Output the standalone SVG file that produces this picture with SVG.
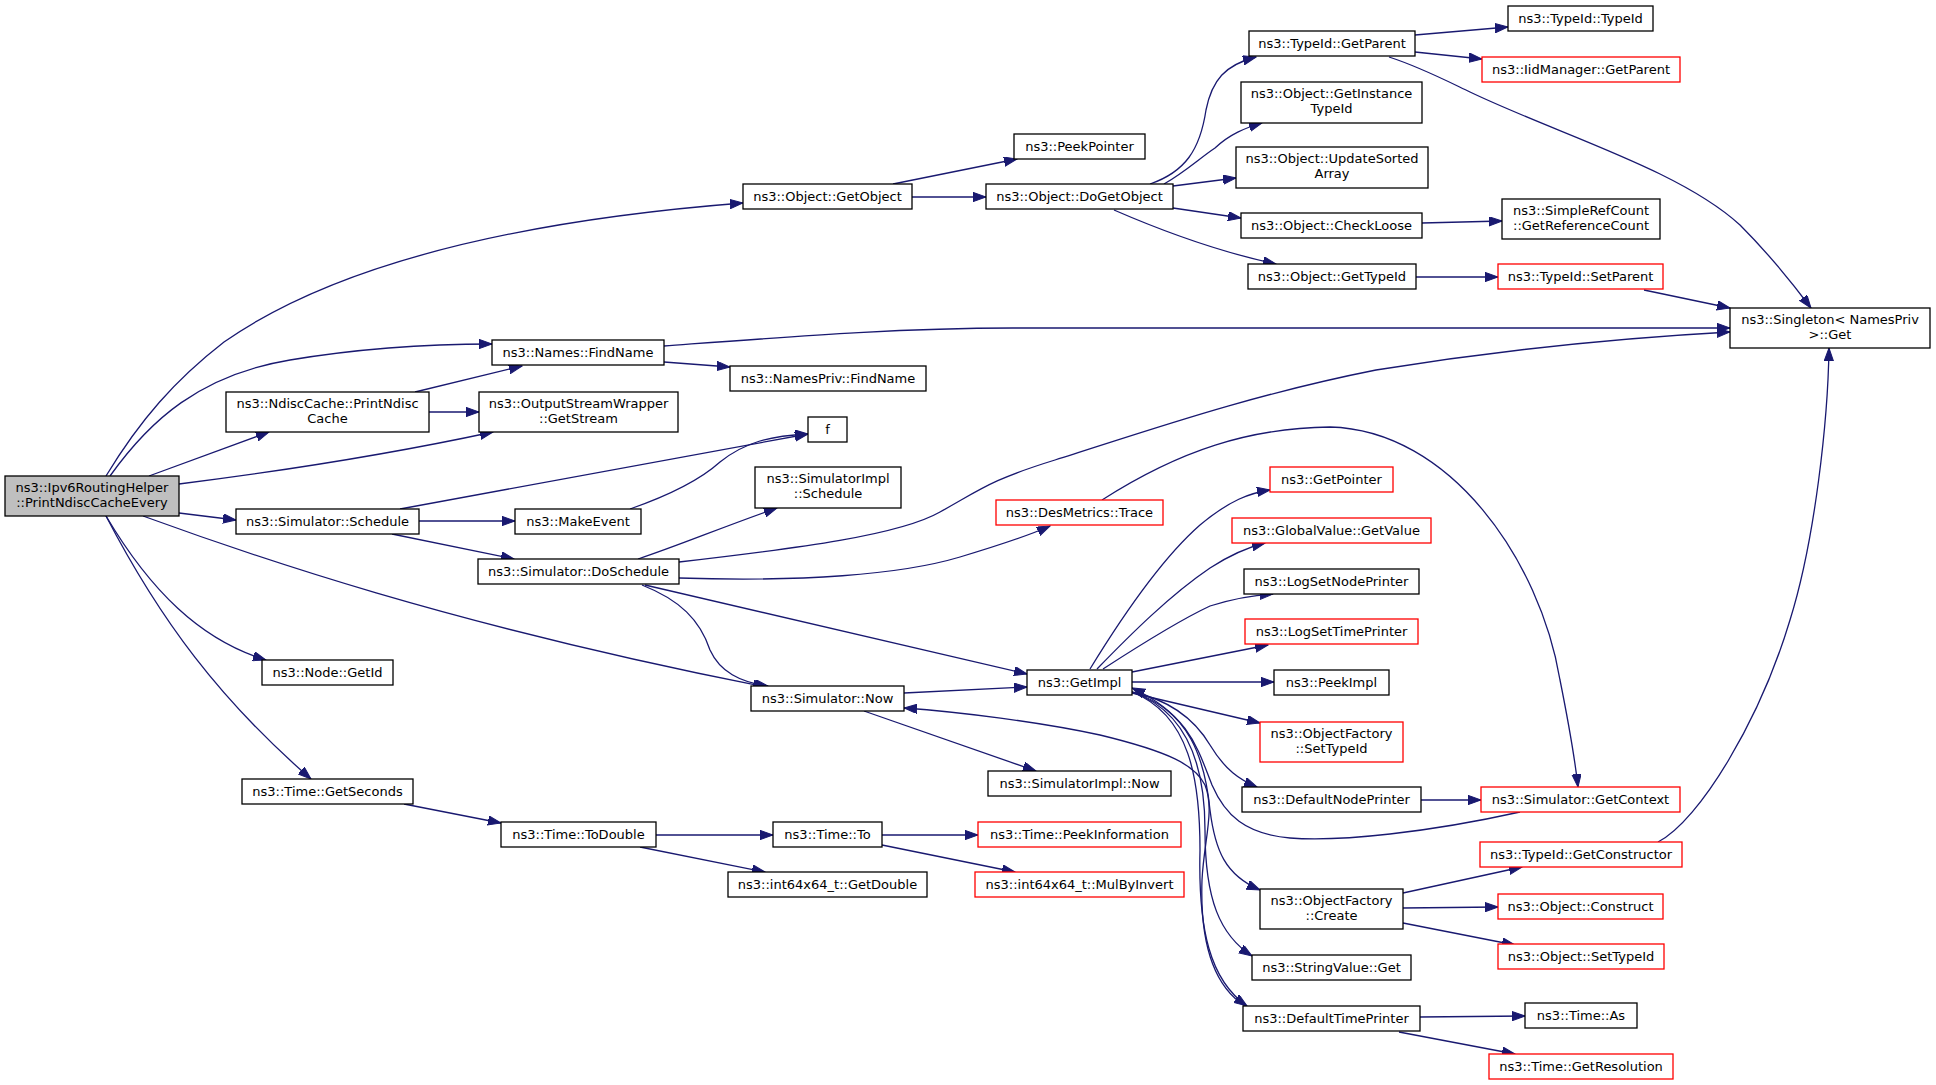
<svg xmlns="http://www.w3.org/2000/svg" width="1936" height="1085" viewBox="0 0 1936 1085">
<style>
.n rect{fill:#fff;stroke:#000;stroke-width:1.3}
.n.red rect{stroke:#f00}
.n.root rect{fill:#bfbfbf}
.n text{font-family:"DejaVu Sans","Liberation Sans",sans-serif;font-size:13px;text-anchor:middle;fill:#000}
#edges path{fill:none;stroke:#191970;stroke-width:1.3;marker-end:url(#ah)}
</style>
<defs>
<marker id="ah" markerUnits="userSpaceOnUse" markerWidth="14" markerHeight="10" refX="13" refY="4.65" orient="auto">
<path d="M0,0 L13,4.65 L0,9.3 z" fill="#191970" stroke="#191970" stroke-width="1"/>
</marker>
</defs>
<rect width="1936" height="1085" fill="#fff"/>
<g id="edges">
<path d="M106,476 C140,420 175,380 224,342 C330,268 500,222 743,203"/>
<path d="M110,476 C150,420 200,375 290,360 C350,350 420,344 492,344"/>
<path d="M149,476 L269,432"/>
<path d="M415,392 L522,366"/>
<path d="M429,412 L479,412"/>
<path d="M179,484 C290,470 400,452 493,432"/>
<path d="M179,513 L236,520"/>
<path d="M400,509 L808,434"/>
<path d="M630,509 C670,495 700,480 720,462 C745,442 770,436 808,434"/>
<path d="M419,521 L515,521"/>
<path d="M392,534 L514,559"/>
<path d="M638,559 C680,545 720,528 777,508"/>
<path d="M679,562 C800,548 900,535 940,512 C980,490 990,480 1055,460 C1150,430 1250,395 1376,370 C1500,350 1620,338 1730,332"/>
<path d="M679,578 C800,582 900,575 960,557 C1000,545 1030,535 1050,526"/>
<path d="M645,585 L1027,674"/>
<path d="M642,585 C680,600 700,620 710,650 C720,672 740,682 768,686"/>
<path d="M143,516 C250,555 450,625 766,687"/>
<path d="M106,516 C150,590 200,640 266,660"/>
<path d="M106,516 C160,620 220,700 311,779"/>
<path d="M404,804 L501,823"/>
<path d="M656,835 L773,835"/>
<path d="M640,847 L765,872"/>
<path d="M882,835 L978,835"/>
<path d="M882,845 L1015,872"/>
<path d="M904,693 L1027,687"/>
<path d="M864,711 L1036,771"/>
<path d="M1245,1006 C1212,985 1200,940 1202,880 C1204,840 1215,810 1205,785 C1195,765 1170,752 1100,735 C1040,722 960,712 904,708"/>
<path d="M1520,812 C1430,832 1340,842 1290,838 C1245,834 1225,815 1212,785 C1198,750 1190,715 1132,688"/>
<path d="M1090,669 C1120,620 1160,560 1200,525 C1230,500 1250,493 1270,490"/>
<path d="M1097,669 C1130,635 1170,595 1210,568 C1230,555 1245,548 1265,543"/>
<path d="M1103,669 C1140,645 1180,620 1210,606 C1235,598 1255,595 1273,594"/>
<path d="M1132,672 L1268,645"/>
<path d="M1132,682 L1274,682"/>
<path d="M1132,693 L1260,723"/>
<path d="M1132,692 C1170,700 1195,720 1210,745 C1225,770 1240,780 1257,787"/>
<path d="M1132,692 C1190,710 1205,760 1210,810 C1215,850 1225,875 1260,890"/>
<path d="M1132,692 C1190,712 1205,770 1205,830 C1205,900 1220,935 1252,956"/>
<path d="M1132,692 C1190,715 1200,780 1200,850 C1198,930 1210,980 1247,1006"/>
<path d="M1102,500 C1180,450 1250,428 1330,427 C1450,430 1540,560 1560,680 C1570,730 1575,760 1578,787"/>
<path d="M1658,842 C1700,820 1760,720 1790,620 C1815,540 1828,420 1829,348"/>
<path d="M1403,893 L1522,867"/>
<path d="M1403,908 L1498,907"/>
<path d="M1403,923 L1515,945"/>
<path d="M1421,800 L1481,800"/>
<path d="M1420,1017 L1525,1016"/>
<path d="M1399,1032 L1515,1054"/>
<path d="M893,184 L1017,159"/>
<path d="M912,197 L986,197"/>
<path d="M1150,184 C1185,172 1200,150 1206,110 C1212,80 1225,65 1256,57"/>
<path d="M1164,184 C1185,172 1200,158 1215,148 C1230,134 1245,128 1262,123"/>
<path d="M1173,186 L1236,178"/>
<path d="M1173,208 L1241,218"/>
<path d="M1114,210 C1160,230 1220,252 1276,264"/>
<path d="M1415,35 L1508,27"/>
<path d="M1415,52 L1482,59"/>
<path d="M1389,57 C1420,67 1445,80 1470,92 C1560,135 1680,170 1740,225 C1770,255 1790,280 1811,308"/>
<path d="M1422,223 L1502,221"/>
<path d="M1416,277 L1498,277"/>
<path d="M1644,290 L1730,308"/>
<path d="M664,346 C800,336 900,328 1013,328 L1730,328"/>
<path d="M664,362 L730,367"/>
</g>
<g id="root" class="n root"><rect x="5" y="476" width="174" height="40"/><text x="92" y="492">ns3::Ipv6RoutingHelper</text><text x="92" y="506.5">::PrintNdiscCacheEvery</text></g>
<g id="getobject" class="n"><rect x="743" y="184" width="169" height="25"/><text x="827.5" y="201">ns3::Object::GetObject</text></g>
<g id="findname" class="n"><rect x="492" y="340" width="172" height="25"/><text x="578" y="357">ns3::Names::FindName</text></g>
<g id="ndisccache" class="n"><rect x="226" y="392" width="203" height="40"/><text x="327.5" y="408">ns3::NdiscCache::PrintNdisc</text><text x="327.5" y="422.5">Cache</text></g>
<g id="outputstream" class="n"><rect x="479" y="392" width="199" height="40"/><text x="578.5" y="408">ns3::OutputStreamWrapper</text><text x="578.5" y="422.5">::GetStream</text></g>
<g id="f" class="n"><rect x="808" y="417" width="39" height="25"/><text x="827.5" y="434">f</text></g>
<g id="schedule" class="n"><rect x="236" y="509" width="183" height="25"/><text x="327.5" y="526">ns3::Simulator::Schedule</text></g>
<g id="makeevent" class="n"><rect x="515" y="509" width="126" height="25"/><text x="578" y="526">ns3::MakeEvent</text></g>
<g id="doschedule" class="n"><rect x="478" y="559" width="201" height="25"/><text x="578.5" y="576">ns3::Simulator::DoSchedule</text></g>
<g id="nodegetid" class="n"><rect x="262" y="660" width="131" height="25"/><text x="327.5" y="677">ns3::Node::GetId</text></g>
<g id="getseconds" class="n"><rect x="242" y="779" width="171" height="25"/><text x="327.5" y="796">ns3::Time::GetSeconds</text></g>
<g id="todouble" class="n"><rect x="501" y="822" width="155" height="25"/><text x="578.5" y="839">ns3::Time::ToDouble</text></g>
<g id="peekpointer" class="n"><rect x="1014" y="134" width="131" height="25"/><text x="1079.5" y="151">ns3::PeekPointer</text></g>
<g id="dogetobject" class="n"><rect x="986" y="184" width="187" height="25"/><text x="1079.5" y="201">ns3::Object::DoGetObject</text></g>
<g id="simnow" class="n"><rect x="751" y="686" width="153" height="25"/><text x="827.5" y="703">ns3::Simulator::Now</text></g>
<g id="simimplschedule" class="n"><rect x="755" y="467" width="146" height="41"/><text x="828" y="483">ns3::SimulatorImpl</text><text x="828" y="497.5">::Schedule</text></g>
<g id="desmetrics" class="n red"><rect x="996" y="500" width="167" height="25"/><text x="1079.5" y="517">ns3::DesMetrics::Trace</text></g>
<g id="getimpl" class="n"><rect x="1027" y="670" width="105" height="25"/><text x="1079.5" y="687">ns3::GetImpl</text></g>
<g id="simimplnow" class="n"><rect x="988" y="771" width="183" height="25"/><text x="1079.5" y="788">ns3::SimulatorImpl::Now</text></g>
<g id="timeto" class="n"><rect x="773" y="822" width="109" height="25"/><text x="827.5" y="839">ns3::Time::To</text></g>
<g id="getdouble" class="n"><rect x="728" y="872" width="199" height="25"/><text x="827.5" y="889">ns3::int64x64_t::GetDouble</text></g>
<g id="peekinfo" class="n red"><rect x="978" y="822" width="203" height="25"/><text x="1079.5" y="839">ns3::Time::PeekInformation</text></g>
<g id="mulbyinvert" class="n red"><rect x="975" y="872" width="209" height="25"/><text x="1079.5" y="889">ns3::int64x64_t::MulByInvert</text></g>
<g id="getparent" class="n"><rect x="1249" y="31" width="166" height="25"/><text x="1332" y="48">ns3::TypeId::GetParent</text></g>
<g id="getinstancetypeid" class="n"><rect x="1241" y="82" width="181" height="41"/><text x="1331.5" y="98">ns3::Object::GetInstance</text><text x="1331.5" y="112.5">TypeId</text></g>
<g id="updatesorted" class="n"><rect x="1236" y="147" width="192" height="41"/><text x="1332" y="163">ns3::Object::UpdateSorted</text><text x="1332" y="177.5">Array</text></g>
<g id="checkloose" class="n"><rect x="1241" y="213" width="181" height="25"/><text x="1331.5" y="230">ns3::Object::CheckLoose</text></g>
<g id="gettypeid" class="n"><rect x="1248" y="264" width="168" height="25"/><text x="1332" y="281">ns3::Object::GetTypeId</text></g>
<g id="getpointer" class="n red"><rect x="1270" y="467" width="123" height="25"/><text x="1331.5" y="484">ns3::GetPointer</text></g>
<g id="globalvalue" class="n red"><rect x="1232" y="518" width="199" height="25"/><text x="1331.5" y="535">ns3::GlobalValue::GetValue</text></g>
<g id="logsetnode" class="n"><rect x="1244" y="569" width="175" height="25"/><text x="1331.5" y="586">ns3::LogSetNodePrinter</text></g>
<g id="logsettime" class="n red"><rect x="1245" y="619" width="173" height="25"/><text x="1331.5" y="636">ns3::LogSetTimePrinter</text></g>
<g id="peekimpl" class="n"><rect x="1274" y="670" width="115" height="25"/><text x="1331.5" y="687">ns3::PeekImpl</text></g>
<g id="ofsettypeid" class="n red"><rect x="1260" y="722" width="143" height="40"/><text x="1331.5" y="738">ns3::ObjectFactory</text><text x="1331.5" y="752.5">::SetTypeId</text></g>
<g id="defaultnode" class="n"><rect x="1242" y="787" width="179" height="25"/><text x="1331.5" y="804">ns3::DefaultNodePrinter</text></g>
<g id="ofcreate" class="n"><rect x="1260" y="889" width="143" height="40"/><text x="1331.5" y="905">ns3::ObjectFactory</text><text x="1331.5" y="919.5">::Create</text></g>
<g id="stringvalue" class="n"><rect x="1252" y="955" width="159" height="25"/><text x="1331.5" y="972">ns3::StringValue::Get</text></g>
<g id="defaulttime" class="n"><rect x="1243" y="1006" width="177" height="25"/><text x="1331.5" y="1023">ns3::DefaultTimePrinter</text></g>
<g id="typeidtypeid" class="n"><rect x="1508" y="6" width="145" height="25"/><text x="1580.5" y="23">ns3::TypeId::TypeId</text></g>
<g id="iidmanager" class="n red"><rect x="1482" y="57" width="198" height="25"/><text x="1581" y="74">ns3::IidManager::GetParent</text></g>
<g id="simplerefcount" class="n"><rect x="1502" y="199" width="158" height="40"/><text x="1581" y="215">ns3::SimpleRefCount</text><text x="1581" y="229.5">::GetReferenceCount</text></g>
<g id="setparent" class="n red"><rect x="1498" y="264" width="165" height="25"/><text x="1580.5" y="281">ns3::TypeId::SetParent</text></g>
<g id="singleton" class="n"><rect x="1730" y="308" width="200" height="40"/><text x="1830" y="324">ns3::Singleton&lt; NamesPriv</text><text x="1830" y="338.5">&gt;::Get</text></g>
<g id="getcontext" class="n red"><rect x="1481" y="787" width="199" height="25"/><text x="1580.5" y="804">ns3::Simulator::GetContext</text></g>
<g id="getconstructor" class="n red"><rect x="1480" y="842" width="202" height="25"/><text x="1581" y="859">ns3::TypeId::GetConstructor</text></g>
<g id="construct" class="n red"><rect x="1498" y="894" width="165" height="25"/><text x="1580.5" y="911">ns3::Object::Construct</text></g>
<g id="objsettypeid" class="n red"><rect x="1498" y="944" width="166" height="25"/><text x="1581" y="961">ns3::Object::SetTypeId</text></g>
<g id="timeas" class="n"><rect x="1525" y="1003" width="112" height="25"/><text x="1581" y="1020">ns3::Time::As</text></g>
<g id="getresolution" class="n red"><rect x="1489" y="1054" width="184" height="25"/><text x="1581" y="1071">ns3::Time::GetResolution</text></g>
<g id="namespriv" class="n"><rect x="730" y="366" width="196" height="25"/><text x="828" y="383">ns3::NamesPriv::FindName</text></g>
</svg>
